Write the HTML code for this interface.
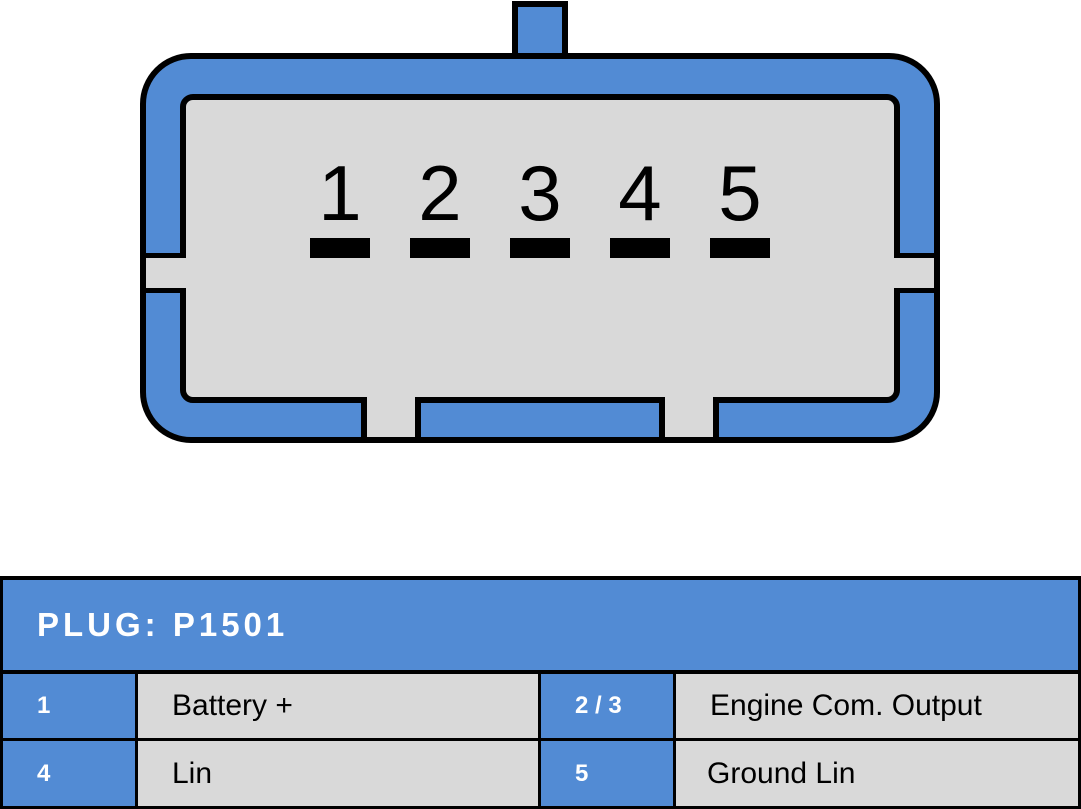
<!DOCTYPE html>
<html><head><meta charset="utf-8"><style>
html,body{margin:0;padding:0;background:#fff;width:1081px;height:809px;overflow:hidden;font-family:"Liberation Sans",sans-serif}
.c{position:absolute;box-sizing:border-box;display:flex;align-items:center}
.b{background:#528bd4;color:#fff}
.g{background:#d9d9d9;color:#000}
</style></head><body>
<svg width="1081" height="809" style="position:absolute;left:0;top:0">
<rect x="515" y="4" width="50" height="60" fill="#528bd4" stroke="#000" stroke-width="6"/>
<rect x="143" y="56" width="794" height="384" rx="48" fill="#528bd4" stroke="#000" stroke-width="6"/>
<rect x="183" y="97" width="714" height="303" rx="10" fill="#d9d9d9" stroke="#000" stroke-width="6"/>
<rect x="146" y="258" width="40" height="30" fill="#d9d9d9"/>
<rect x="143" y="253" width="43" height="5" fill="#000"/>
<rect x="143" y="288" width="43" height="5" fill="#000"/>
<rect x="894" y="258" width="40" height="30" fill="#d9d9d9"/>
<rect x="894" y="253" width="43" height="5" fill="#000"/>
<rect x="894" y="288" width="43" height="5" fill="#000"/>
<rect x="367" y="396" width="48" height="41" fill="#d9d9d9"/>
<rect x="361" y="400" width="6" height="40" fill="#000"/>
<rect x="415" y="400" width="6" height="40" fill="#000"/>
<rect x="665" y="396" width="48" height="41" fill="#d9d9d9"/>
<rect x="659" y="400" width="6" height="40" fill="#000"/>
<rect x="713" y="400" width="6" height="40" fill="#000"/>
<g font-family="Liberation Sans, sans-serif" font-size="78" text-anchor="middle" fill="#000">
<text x="340" y="220">1</text><text x="440" y="220">2</text><text x="540" y="220">3</text><text x="640" y="220">4</text><text x="740" y="220">5</text>
</g>
<g fill="#000">
<rect x="310" y="238" width="60" height="20"/><rect x="410" y="238" width="60" height="20"/><rect x="510" y="238" width="60" height="20"/><rect x="610" y="238" width="60" height="20"/><rect x="710" y="238" width="60" height="20"/>
</g>
</svg>
<div style="position:absolute;left:0;top:576px;width:1081px;height:233px;background:#000"></div>
<div class="c b" style="left:3px;top:580px;width:1075px;height:90px;padding-left:34px;font-weight:bold;font-size:33px;letter-spacing:4px">PLUG: P1501</div>
<div class="c b" style="left:3px;top:674px;width:132px;height:64px;padding-left:34px;font-size:24px;font-weight:bold">1</div>
<div class="c g" style="left:138px;top:674px;width:400px;height:64px;padding-left:34px;font-size:30px">Battery +</div>
<div class="c b" style="left:541px;top:674px;width:132px;height:64px;padding-left:34px;font-size:24px;font-weight:bold">2 / 3</div>
<div class="c g" style="left:676px;top:674px;width:402px;height:64px;padding-left:34px;font-size:30px">Engine Com. Output</div>
<div class="c b" style="left:3px;top:741px;width:132px;height:65px;padding-left:34px;font-size:24px;font-weight:bold">4</div>
<div class="c g" style="left:138px;top:741px;width:400px;height:65px;padding-left:34px;font-size:30px">Lin</div>
<div class="c b" style="left:541px;top:741px;width:132px;height:65px;padding-left:34px;font-size:24px;font-weight:bold">5</div>
<div class="c g" style="left:676px;top:741px;width:402px;height:65px;padding-left:31px;font-size:30px">Ground Lin</div>
</body></html>
